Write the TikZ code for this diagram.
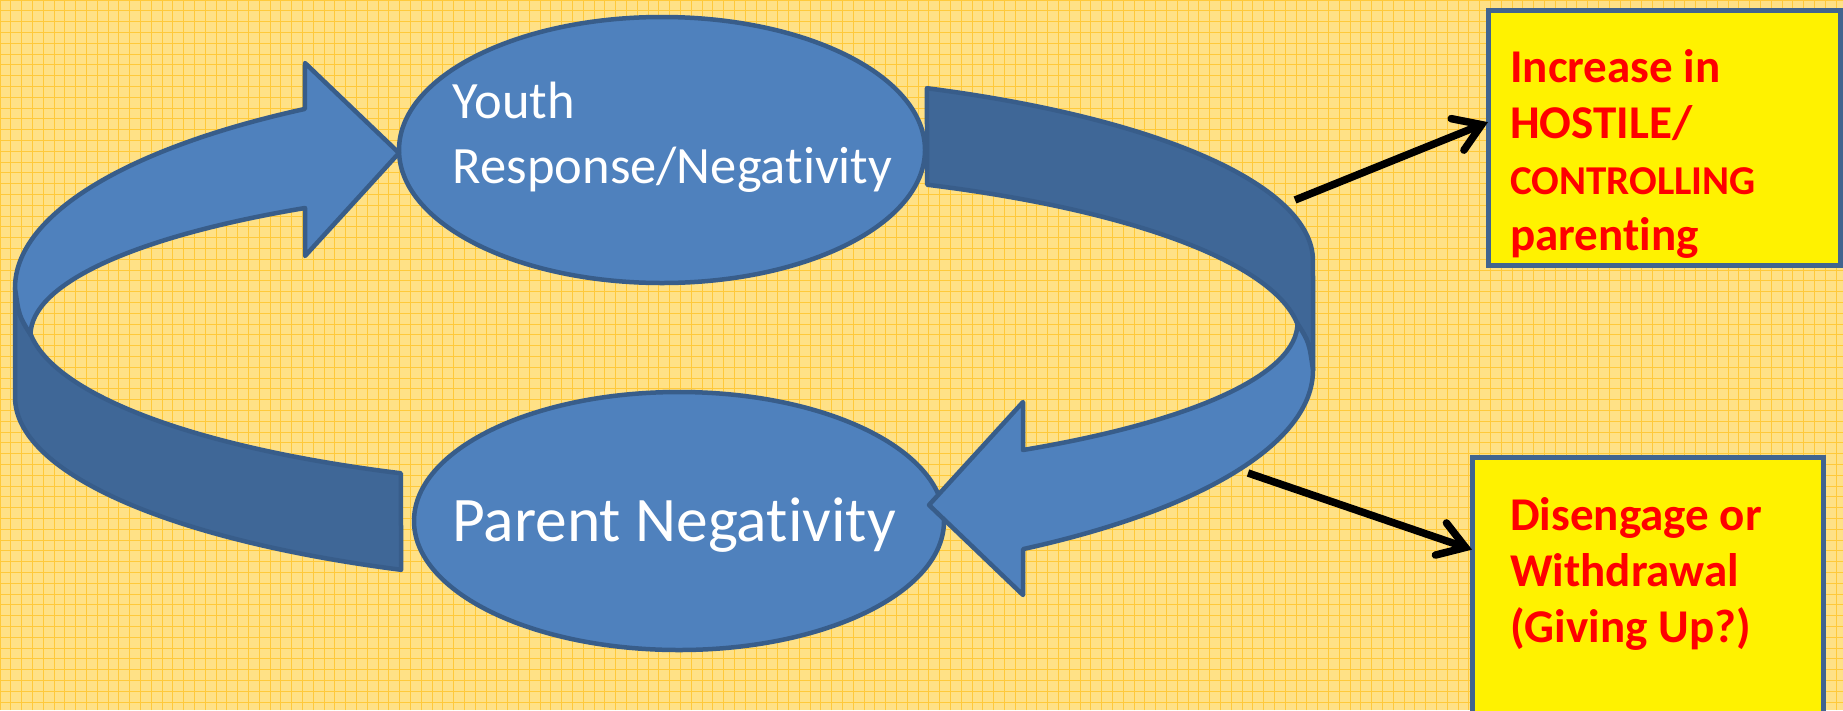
\documentclass[tikz,border=0pt]{standalone}
\usepackage{fontspec}
\setmainfont{Carlito}[Ligatures={NoCommon,NoContextual},Contextuals=NoAlternate,RawFeature={-liga;-clig;-calt}]
\usetikzlibrary{shapes.geometric}
\usetikzlibrary{positioning}
\usetikzlibrary{arrows.meta}

\definecolor{bgyellow}{HTML}{FFE186}
\definecolor{gridyellow}{HTML}{FFC93A}
\definecolor{cyclefill}{HTML}{4F81BD}
\definecolor{cycledark}{HTML}{3F6797}
\definecolor{cycleline}{HTML}{385D8A}
\definecolor{boxline}{HTML}{41648F}

\begin{document}
\begin{tikzpicture}
[x=1pt,y=-1pt,%
  cyclenode/.style={shape=ellipse,draw=cycleline,fill=cyclefill,line width=4.5pt,inner sep=0pt},%
  cycletext/.style={text=white,align=left,inner sep=0pt,font=\fontsize{52.5}{65}\selectfont},%
  band/.style={draw=cycleline,line width=4.5pt,line join=round},%
  outcome/.style={draw=boxline,fill=yellow,line width=5pt,inner sep=0pt,outer sep=0pt},%
  outtext/.style={text=red,align=left,inner sep=0pt,font=\bfseries\fontsize{47}{56}\selectfont},%
  >={Straight Barb[length=26pt,width=34pt,line cap=round]}]
\useasboundingbox (0,0) rectangle (1843,710);
\clip (0,0) rectangle (1843,710);
\fill[bgyellow] (0,0) rectangle (1843,710);
\draw[gridyellow,line width=1pt] (0,710) grid[xstep=10.8pt,ystep=10.8pt] (1843,0);
%%
\node[cyclenode,minimum width=526pt,minimum height=266pt] (youth) at (662,150) {};
\node[cyclenode,minimum width=530pt,minimum height=258pt] (parent) at (679,521) {};
\node[cycletext,anchor=north west] (youthtext) at ([shift={(56,-68)}]youth.west)
  {Youth\\Response/Negativity};
\node[cycletext,font=\fontsize{63.5}{76}\selectfont,text height=40pt,text depth=0pt]
  (parenttext) at ([xshift=-5pt]parent.center) {Parent Negativity};
%%
\foreach \turn in {0,180}
{
  \begin{scope}[rotate around={\turn:(664,329)}]
    \path[band,fill=cycledark] (926.9,88.2)
      arc[start angle=-66.1,end angle=0,x radius=649,y radius=189]
      -- (1313,370) .. controls (1309,342) .. (1297,323)
      arc[start angle=-6.4,end angle=-65.6,x radius=637,y radius=173] -- cycle;
    \path[band,fill=cyclefill] (1297,323) .. controls (1309,342) .. (1313,370)
      arc[start angle=0,end angle=56.4,x radius=649,y radius=215]
      -- (1023,595) -- (929,505) -- (1023,402) -- (1023,450)
      arc[start angle=55.5,end angle=0,x radius=633,y radius=154] -- cycle;
  \end{scope}
}
%%
\node[outcome,anchor=north west,minimum width=352pt,minimum height=255pt] (incr) at (1488,10) {};
\node[outtext,below right=39pt and 22pt of incr.north west] (incrtext)
  {Increase in\\HOSTILE/\\{\fontsize{41}{56}\selectfont CONTROLLING}\\parenting};
\node[outcome,anchor=north west,minimum width=351pt,minimum height=313pt] (diseng) at (1472,457) {};
\node[outtext,below right=40pt and 38pt of diseng.north west] (disengtext)
  {Disengage or\\Withdrawal\\(Giving Up?)};
%%
\coordinate (hostilefrom) at (1295,200);
\coordinate (withdrawfrom) at (1248,473);
\path
\foreach \fromPt/\toBox in {hostilefrom/incr.175, withdrawfrom/diseng.160}
{
  (\fromPt) edge[->,line width=7.5pt] (\toBox)
};
\end{tikzpicture}
\end{document}
